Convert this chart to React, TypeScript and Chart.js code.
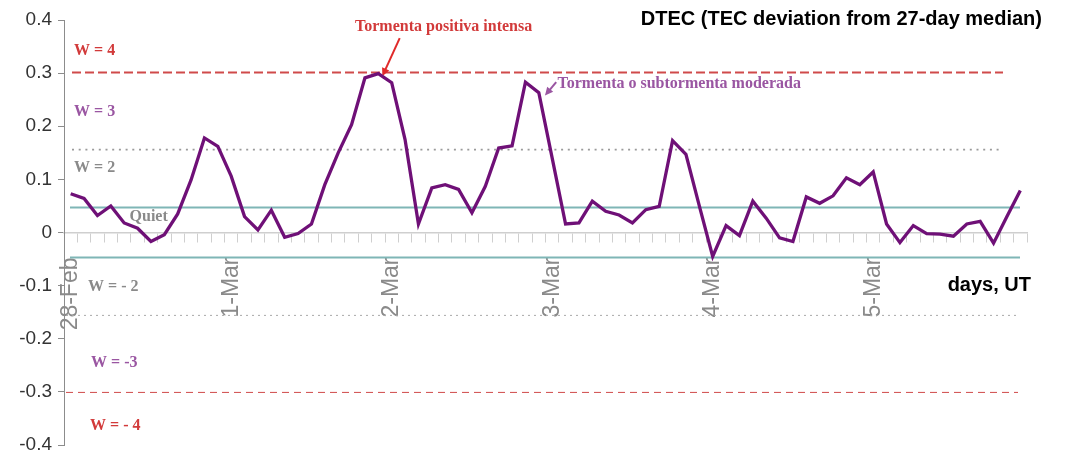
import React, { useEffect, useRef } from 'react';
import { Chart, registerables } from 'chart.js';

Chart.register(...registerables);

// ---------- data ----------
const DAY_LABELS = ['28-Feb', '1-Mar', '2-Mar', '3-Mar', '4-Mar', '5-Mar'];
const HOURS_UT = [0, 2, 4, 6, 8, 10, 12, 14, 16, 18, 20, 22];
const CATEGORIES = DAY_LABELS.flatMap((d) => HOURS_UT.map((h) => `${d} ${String(h).padStart(2, '0')}:00`));

const DTEC = [
  0.073, 0.064, 0.032, 0.050, 0.018, 0.008, -0.017, -0.004, 0.035, 0.099, 0.178, 0.162,
  0.106, 0.030, 0.005, 0.042, -0.009, -0.002, 0.016, 0.090, 0.150, 0.203, 0.291, 0.299,
  0.282, 0.175, 0.016, 0.084, 0.090, 0.081, 0.037, 0.087, 0.159, 0.163, 0.283, 0.263,
  0.140, 0.016, 0.018, 0.059, 0.040, 0.033, 0.018, 0.043, 0.049, 0.173, 0.147, 0.050,
  -0.045, 0.013, -0.006, 0.059, 0.027, -0.010, -0.017, 0.067, 0.055, 0.069, 0.103, 0.090,
  0.114, 0.016, -0.019, 0.013, -0.002, -0.003, -0.007, 0.016, 0.021, -0.020, 0.030, 0.079,
];

const Y_MIN = -0.4;
const Y_MAX = 0.4;
const Y_STEP = 0.1;

// threshold levels (W index boundaries)
const W4_LEVELS = [0.301, -0.301];
const W2_LEVELS = [0.156, -0.156];
const QUIET_LEVELS = [0.047, -0.047];

// label texts
const TITLE = 'DTEC (TEC deviation from 27-day median)';
const X_TITLE = 'days, UT';
const W_LABELS = ['W = 4', 'W = 3', 'W = 2', 'Quiet', 'W = - 2', 'W = -3', 'W = - 4'];
const NOTE_STRONG = 'Tormenta positiva intensa';
const NOTE_MODERATE = 'Tormenta o subtormenta moderada';

// ---------- styles ----------
const RED = '#d23a3a';
const PURPLE_TXT = '#9a56a2';
const GRAY_TXT = '#8a8a8a';
const LINE_PURPLE = '#6f1077';
const TEAL = '#7fb6b6';

const overlay = {
  id: 'overlay',
  beforeDatasetsDraw(chart: any) {
    const { ctx, chartArea: ca, scales } = chart;
    const x = scales.x;
    const y = scales.y;
    ctx.save();
    const hline = (v: number, x0: number, x1: number, color: string, w: number, dash: number[]) => {
      const py = y.getPixelForValue(v);
      ctx.beginPath();
      ctx.setLineDash(dash);
      ctx.strokeStyle = color;
      ctx.lineWidth = w;
      ctx.moveTo(x0, py);
      ctx.lineTo(x1, py);
      ctx.stroke();
    };
    // positive thresholds
    hline(W4_LEVELS[0], ca.left + 8, ca.right - 24, '#d04a4a', 2, [9, 4]);
    hline(W2_LEVELS[0], ca.left + 8, ca.right - 24, '#9a9a9a', 1.6, [2, 4.7]);
    hline(QUIET_LEVELS[0], ca.left + 6, ca.right - 7, TEAL, 2, []);
    // negative thresholds
    hline(QUIET_LEVELS[1], ca.left + 6, ca.right - 7, TEAL, 2, []);
    hline(W2_LEVELS[1], ca.left + 2, ca.right - 9, '#a8a8a8', 1, [2, 4]);
    hline(W4_LEVELS[1], ca.left + 2, ca.right - 9, '#d04a4a', 1, [7, 5]);
    ctx.setLineDash([]);

    const text = (s: string, xi: number, v: number, color: string, font: string, align: CanvasTextAlign = 'left') => {
      ctx.font = font;
      ctx.fillStyle = color;
      ctx.textAlign = align;
      ctx.textBaseline = 'middle';
      ctx.fillText(s, x.getPixelForValue(xi), y.getPixelForValue(v));
    };
    const serif = 'bold 16px "Liberation Serif", "Times New Roman", serif';
    text(W_LABELS[0], 0.25, 0.3425, RED, serif);
    text(W_LABELS[1], 0.25, 0.2276, PURPLE_TXT, serif);
    text(W_LABELS[2], 0.25, 0.122, GRAY_TXT, serif);
    text(W_LABELS[3], 4.4, 0.0297, GRAY_TXT, serif);
    text(W_LABELS[4], 1.3, -0.102, GRAY_TXT, serif);
    text(W_LABELS[5], 1.52, -0.245, PURPLE_TXT, serif);
    text(W_LABELS[6], 1.45, -0.364, RED, serif);
    text(NOTE_STRONG, 21.26, 0.388, RED, serif);
    text(NOTE_MODERATE, 36.4, 0.28, PURPLE_TXT, serif);

    // title and axis title
    ctx.font = 'bold 20px "Liberation Sans", Arial, sans-serif';
    ctx.fillStyle = '#000';
    ctx.textAlign = 'right';
    ctx.textBaseline = 'middle';
    ctx.fillText(TITLE, ca.right + 15, y.getPixelForValue(0.401));
    ctx.fillText(X_TITLE, ca.right + 4, y.getPixelForValue(-0.099));

    // arrows
    const arrow = (xi0: number, v0: number, xi1: number, v1: number, color: string) => {
      const x0 = x.getPixelForValue(xi0), y0 = y.getPixelForValue(v0);
      const x1 = x.getPixelForValue(xi1), y1 = y.getPixelForValue(v1);
      const ang = Math.atan2(y1 - y0, x1 - x0);
      const head = 9;
      ctx.strokeStyle = color;
      ctx.fillStyle = color;
      ctx.lineWidth = 2;
      ctx.beginPath();
      ctx.moveTo(x0, y0);
      ctx.lineTo(x1 - Math.cos(ang) * head * 0.6, y1 - Math.sin(ang) * head * 0.6);
      ctx.stroke();
      ctx.beginPath();
      ctx.moveTo(x1, y1);
      ctx.lineTo(x1 - head * Math.cos(ang - 0.45), y1 - head * Math.sin(ang - 0.45));
      ctx.lineTo(x1 - head * Math.cos(ang + 0.45), y1 - head * Math.sin(ang + 0.45));
      ctx.closePath();
      ctx.fill();
    };
    arrow(24.6, 0.366, 23.3, 0.294, '#e02a2a');
    arrow(36.3, 0.283, 35.46, 0.258, PURPLE_TXT);
    ctx.restore();
  },
};

export default function App() {
  const canvasRef = useRef<HTMLCanvasElement | null>(null);

  useEffect(() => {
    if (!canvasRef.current) return;
    const chart = new Chart(canvasRef.current, {
      type: 'line',
      data: {
        labels: CATEGORIES,
        datasets: [
          {
            data: DTEC,
            borderColor: LINE_PURPLE,
            borderWidth: 3.3,
            pointRadius: 0,
            tension: 0,
            fill: false,
          },
        ],
      },
      options: {
        animation: false,
        responsive: false,
        maintainAspectRatio: false,
        layout: { padding: { top: 20, right: 52, bottom: 9, left: 0 } },
        plugins: { legend: { display: false }, tooltip: { enabled: false }, title: { display: false } },
        scales: {
          x: {
            type: 'category',
            position: { y: 0 } as any,
            offset: true,
            grid: { drawOnChartArea: false, drawTicks: true, tickLength: 9, color: '#cfcfcf', offset: true },
            border: { display: true, color: '#cfcfcf', width: 1.5 },
            ticks: {
              autoSkip: false,
              minRotation: 90,
              maxRotation: 90,
              padding: 16,
              color: '#8a8a8a',
              font: { family: '"Liberation Sans", Arial, sans-serif', size: 23 },
              callback: (_v: any, i: number) => (i % HOURS_UT.length === 0 ? DAY_LABELS[i / HOURS_UT.length] : ''),
            },
          },
          y: {
            min: Y_MIN,
            max: Y_MAX,
            afterFit: (s: any) => {
              s.width = 64;
              s.paddingTop = 0;
              s.paddingBottom = 0;
            },
            grid: { drawOnChartArea: false, drawTicks: true, tickLength: 6, color: '#8c8c8c' },
            border: { display: true, color: '#8c8c8c', width: 1 },
            ticks: {
              stepSize: Y_STEP,
              padding: 6,
              color: '#333333',
              font: { family: '"Liberation Sans", Arial, sans-serif', size: 19 },
              callback: (v: any) => (Math.abs(v) < 1e-9 ? '0' : Number(v).toFixed(1)),
            },
          },
        },
      },
      plugins: [overlay],
    });
    return () => chart.destroy();
  }, []);

  return (
    <div style={{ position: 'absolute', left: 0, top: 0, width: 1079, height: 454, background: '#fff' }}>
      <canvas ref={canvasRef} width={1079} height={454} style={{ display: 'block', width: 1079, height: 454 }} />
    </div>
  );
}
